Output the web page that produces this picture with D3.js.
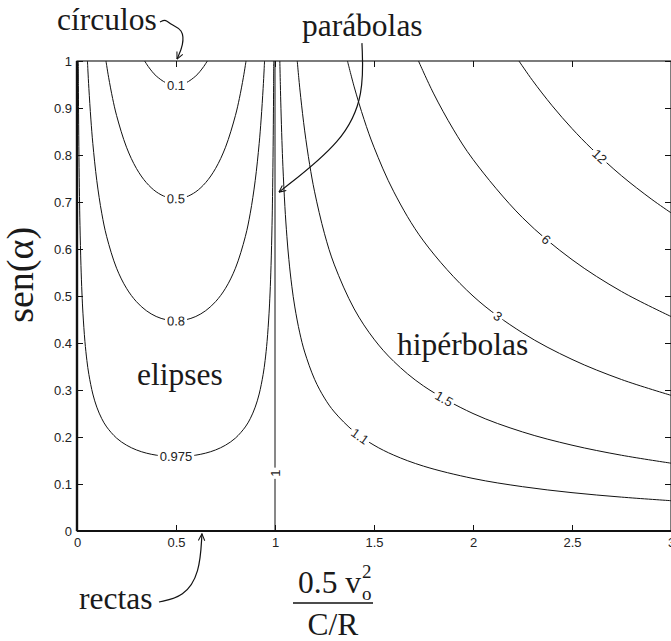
<!DOCTYPE html>
<html><head><meta charset="utf-8">
<script src="https://cdn.jsdelivr.net/npm/d3@7"></script>
<style>body{margin:0;background:#fff;overflow:hidden}</style>
</head><body><svg id="c" width="671" height="641"></svg>
<script>
// ---------- data ----------
const xTicks = [0, 0.5, 1, 1.5, 2, 2.5, 3];
const xTickLabels = ["0", "0.5", "1", "1.5", "2", "2.5", "3"];
const yTicks = [0, 0.1, 0.2, 0.3, 0.4, 0.5, 0.6, 0.7, 0.8, 0.9, 1];
const yTickLabels = ["0", "0.1", "0.2", "0.3", "0.4", "0.5", "0.6", "0.7", "0.8", "0.9", "1"];

const levelNames = ["0.1", "0.5", "0.8", "0.975", "1", "1.1", "1.5", "3", "6", "12"];

const c01 = [[0.3419,1],[0.345,0.9978],[0.35,0.9945],[0.36,0.9882],[0.38,0.9772],[0.4,0.9682],[0.45,0.9535],[0.5,0.9487],[0.55,0.9535],[0.6,0.9682],[0.62,0.9772],[0.64,0.9882],[0.65,0.9945],[0.655,0.9978],[0.6581,1]];
const c05 = [[0.1464,1],[0.15,0.9901],[0.16,0.9644],[0.18,0.9203],[0.2,0.8839],[0.25,0.8165],[0.3,0.7715],[0.35,0.7413],[0.4,0.7217],[0.45,0.7107],[0.5,0.7071],[0.55,0.7107],[0.6,0.7217],[0.65,0.7413],[0.7,0.7715],[0.75,0.8165],[0.8,0.8839],[0.82,0.9203],[0.84,0.9644],[0.85,0.9901],[0.8536,1]];
const c08 = [[0.0528,1],[0.055,0.9808],[0.06,0.9415],[0.07,0.8764],[0.08,0.8242],[0.1,0.7454],[0.125,0.6761],[0.15,0.6262],[0.2,0.559],[0.25,0.5164],[0.3,0.488],[0.35,0.4688],[0.4,0.4564],[0.45,0.4495],[0.5,0.4472],[0.55,0.4495],[0.6,0.4564],[0.65,0.4688],[0.7,0.488],[0.75,0.5164],[0.8,0.559],[0.85,0.6262],[0.875,0.6761],[0.9,0.7454],[0.92,0.8242],[0.93,0.8764],[0.94,0.9415],[0.945,0.9808],[0.9472,1]];
const c0975 = [[0.00629,1],[0.007,0.9482],[0.008,0.8874],[0.01,0.7945],[0.0125,0.7116],[0.015,0.6504],[0.02,0.5647],[0.025,0.5064],[0.03,0.4634],[0.04,0.4034],[0.05,0.3627],[0.06,0.3329],[0.08,0.2914],[0.1,0.2635],[0.125,0.239],[0.15,0.2214],[0.2,0.1976],[0.25,0.1826],[0.3,0.1725],[0.35,0.1657],[0.4,0.1614],[0.45,0.1589],[0.5,0.1581],[0.55,0.1589],[0.6,0.1614],[0.65,0.1657],[0.7,0.1725],[0.75,0.1826],[0.8,0.1976],[0.85,0.2214],[0.875,0.239],[0.9,0.2635],[0.92,0.2914],[0.94,0.3329],[0.95,0.3627],[0.96,0.4034],[0.97,0.4634],[0.975,0.5064],[0.98,0.5647],[0.985,0.6504],[0.9875,0.7116],[0.99,0.7945],[0.992,0.8874],[0.993,0.9482],[0.99371,1]];
const c1 = [[1,0],[1,1]];
const c1Left = [[0,0],[0,1]];
const c1Bottom = [[0,0],[3,0]];
const c11 = [[1.0244,1],[1.027,0.9495],[1.03,0.8995],[1.035,0.8307],[1.04,0.7752],[1.05,0.6901],[1.06,0.627],[1.07,0.5777],[1.085,0.5207],[1.1,0.4767],[1.125,0.4216],[1.15,0.3807],[1.2,0.3227],[1.25,0.2828],[1.3,0.2532],[1.4,0.2113],[1.5,0.1826],[1.6,0.1614],[1.75,0.138],[2,0.1118],[2.25,0.0943],[2.5,0.0816],[2.75,0.0721],[3,0.0645]];
const c15 = [[1.1124,1],[1.12,0.9644],[1.13,0.9225],[1.15,0.8513],[1.175,0.7797],[1.2,0.7217],[1.25,0.6325],[1.3,0.5661],[1.4,0.4725],[1.5,0.4082],[1.6,0.3608],[1.75,0.3086],[2,0.25],[2.25,0.2108],[2.5,0.1826],[2.75,0.1612],[3,0.1443]];
const c3 = [[1.366,1],[1.4,0.9449],[1.45,0.8754],[1.5,0.8165],[1.6,0.7217],[1.75,0.6172],[2,0.5],[2.25,0.4216],[2.5,0.3651],[2.75,0.3223],[3,0.2887]];
const c6 = [[1.7247,1],[1.8,0.9317],[1.9,0.855],[2,0.7906],[2.25,0.6667],[2.5,0.5774],[2.75,0.5096],[3,0.4564]];
const c12 = [[2.2321,1],[2.3,0.959],[2.4,0.9047],[2.5,0.8563],[2.6,0.8131],[2.75,0.7559],[2.9,0.7065],[3,0.677]];

const contours = [c01, c05, c08, c0975, c1, c11, c15, c3, c6, c12];
// where each contour carries its label (x value, or y value for the vertical line)
const labelAt = [0.5, 0.5, 0.5, 0.5, 0.123, 1.43, 1.854, 2.126, 2.37, 2.64];

// ---------- layout ----------
const svg = d3.select("#c");
const x = d3.scaleLinear().domain([0, 3]).range([77, 671]);
const y = d3.scaleLinear().domain([0, 1]).range([531, 61]);
const serif = "'Liberation Serif','Times New Roman',serif";
const sans = "'Liberation Sans',Arial,Helvetica,sans-serif";
const ink = "#111";

const defs = svg.append("defs");
defs.append("marker").attr("id", "ah").attr("viewBox", "0 0 10 10")
  .attr("refX", 9.5).attr("refY", 5).attr("markerWidth", 8).attr("markerHeight", 8)
  .attr("markerUnits", "userSpaceOnUse").attr("orient", "auto")
  .append("path").attr("d", "M1,1 L9.5,5 L1,9").attr("fill", "none")
  .attr("stroke", ink).attr("stroke-width", 1.3);

const line = d3.line().x(d => x(d[0])).y(d => y(d[1])).curve(d3.curveCatmullRom.alpha(0.5));
const straight = d3.line().x(d => x(d[0])).y(d => y(d[1]));

// frame
svg.append("rect").attr("x", x(0)).attr("y", y(1)).attr("width", x(3) - x(0)).attr("height", y(0) - y(1))
  .attr("fill", "none").attr("stroke", ink).attr("stroke-width", 1.1);
// level-1 boundary contours along the axes
svg.append("path").attr("d", straight(c1Left)).attr("stroke", ink).attr("stroke-width", 2.4).attr("fill", "none");
svg.append("path").attr("d", straight(c1Bottom)).attr("stroke", ink).attr("stroke-width", 2.0).attr("fill", "none");

// axes
function styleAxis(g) {
  g.select(".domain").remove();
  g.selectAll(".tick line").attr("stroke", ink).attr("stroke-width", 1);
  g.selectAll("text").attr("font-family", sans).attr("font-size", 13).attr("fill", "#222");
}
svg.append("g").attr("transform", `translate(0,${y(0)})`)
  .call(d3.axisBottom(x).tickValues(xTicks).tickFormat((d, i) => xTickLabels[i]).tickSizeInner(-6).tickSizeOuter(0).tickPadding(7))
  .call(styleAxis);
svg.append("g").attr("transform", `translate(0,${y(1)})`)
  .call(d3.axisTop(x).tickValues(xTicks).tickFormat("").tickSizeInner(-6).tickSizeOuter(0))
  .call(styleAxis);
svg.append("g").attr("transform", `translate(${x(0)},0)`)
  .call(d3.axisLeft(y).tickValues(yTicks).tickFormat((d, i) => yTickLabels[i]).tickSizeInner(-6).tickSizeOuter(0).tickPadding(5))
  .call(styleAxis);
svg.append("g").attr("transform", `translate(${x(3)},0)`)
  .call(d3.axisRight(y).tickValues(yTicks).tickFormat("").tickSizeInner(-6).tickSizeOuter(0))
  .call(styleAxis);

// contour lines
const paths = contours.map((c, i) => svg.append("path")
  .attr("d", c.length === 2 ? straight(c) : line(c))
  .attr("fill", "none").attr("stroke", ink).attr("stroke-width", 1).node());

// contour labels (inline, MATLAB clabel style)
paths.forEach((p, i) => {
  const vertical = contours[i].length === 2;
  const target = vertical ? y(labelAt[i]) : x(labelAt[i]);
  const L = p.getTotalLength();
  let best = 0, bd = 1e9;
  for (let l = 0; l <= L; l += 0.25) {
    const q = p.getPointAtLength(l);
    const d = Math.abs((vertical ? q.y : q.x) - target);
    if (d < bd) { bd = d; best = l; }
  }
  const q = p.getPointAtLength(best);
  const a = p.getPointAtLength(Math.max(0, best - 3));
  const b = p.getPointAtLength(Math.min(L, best + 3));
  let ang = Math.atan2(b.y - a.y, b.x - a.x) * 180 / Math.PI;
  if (ang > 90) ang -= 180;
  if (ang < -90) ang += 180;
  const g = svg.append("g").attr("transform", `translate(${q.x},${q.y}) rotate(${ang})`);
  const r = g.append("rect").attr("fill", "#fff");
  const t = g.append("text").text(levelNames[i]).attr("font-family", sans).attr("font-size", 13)
    .attr("fill", "#222").attr("text-anchor", "middle").attr("dy", "0.36em");
  const w = t.node().getComputedTextLength();
  r.attr("x", -w / 2 - 2).attr("y", -6).attr("width", w + 4).attr("height", 12);
});

// annotations (data coordinates)
function txt(str, dx, dy, size) {
  return svg.append("text").attr("x", x(dx)).attr("y", y(dy)).text(str)
    .attr("font-family", serif).attr("font-size", size).attr("fill", "#1a1a1a");
}
txt("círculos", -0.101, 1.066, 31.5);
txt("parábolas", 1.136, 1.053, 31.5);
txt("elipses", 0.303, 0.311, 31.5);
txt("hipérbolas", 1.616, 0.374, 31.5);
txt("rectas", 0.01, -0.166, 31.5);

const arrow = d3.line().x(d => x(d[0])).y(d => y(d[1])).curve(d3.curveBasis);
const arrows = [
  [[0.419, 1.083], [0.449, 1.089], [0.473, 1.077], [0.535, 1.068], [0.538, 1.034], [0.505, 1.004]],
  [[1.439, 1.038], [1.45, 0.93], [1.35, 0.83], [1.02, 0.721]],
  [[0.414, -0.151], [0.54, -0.14], [0.62, -0.09], [0.631, -0.006]]
];
arrows.forEach(a => svg.append("path").attr("d", arrow(a)).attr("fill", "none")
  .attr("stroke", ink).attr("stroke-width", 1.2).attr("marker-end", "url(#ah)"));

// y label
svg.append("text").attr("transform", `translate(33,${y(0.545)}) rotate(-90)`)
  .attr("text-anchor", "middle").attr("font-family", serif).attr("font-size", 38).attr("fill", "#1a1a1a")
  .text("sen(α)");

// x label: fraction 0.5 v_o^2 / (C/R)
const num = svg.append("text").attr("x", 298).attr("y", 593).attr("font-family", serif)
  .attr("font-size", 31.5).attr("fill", "#1a1a1a").text("0.5 v");
const nEnd = 298 + num.node().getComputedTextLength();
svg.append("text").attr("x", nEnd + 1).attr("y", 600).attr("font-family", serif).attr("font-size", 19).attr("fill", "#1a1a1a").text("o");
svg.append("text").attr("x", nEnd + 1).attr("y", 578).attr("font-family", serif).attr("font-size", 19).attr("fill", "#1a1a1a").text("2");
svg.append("line").attr("x1", 293).attr("x2", 373).attr("y1", 603).attr("y2", 603).attr("stroke", ink).attr("stroke-width", 1.3);
svg.append("text").attr("x", 333).attr("y", 635).attr("text-anchor", "middle").attr("font-family", serif)
  .attr("font-size", 31.5).attr("fill", "#1a1a1a").text("C/R");
</script></body></html>
